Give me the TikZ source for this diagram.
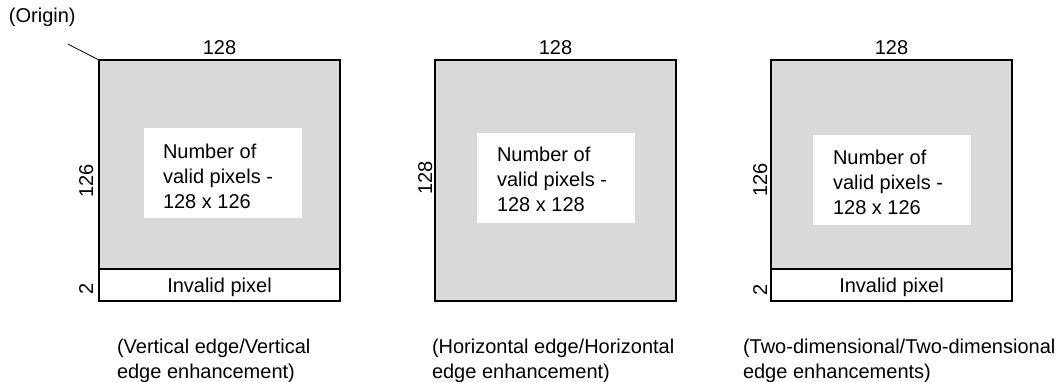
\documentclass[tikz,border=0pt]{standalone}
\usepackage{fontspec}
\setmainfont{Liberation Sans}
\usetikzlibrary{positioning}
\definecolor{pixgray}{RGB}{217,217,217}
\tikzset{
	every node/.style={inner sep=0pt, outer sep=0pt, font=\fontsize{20}{25}\selectfont},
	pixarea/.style={draw, line width=1.8pt, fill=pixgray, minimum width=241pt},
	badrow/.style={draw, line width=1.8pt, fill=white, minimum width=241pt, minimum height=32pt, text depth=0pt},
	infobox/.style={fill=white, minimum width=158pt, minimum height=90pt},
	infotext/.style={align=left, anchor=north west},
	sidelabel/.style={rotate=90, anchor=base},
	caption/.style={align=left, anchor=north west},
}

\begin{document}
\begin{tikzpicture}[x=1pt, y=-1pt]
	\useasboundingbox (0,0) rectangle (1060,381);

	% vertical edge
	\node[pixarea, minimum height=209pt] (sqA) at (219.5,164.5) {};
	\node[badrow, below=0pt of sqA] (badA) {Invalid pixel};
	\node[infobox] (boxA) at (222.5,172.5) {};
	\node[infotext] (txtA) at (163,143.7) {Number of\\valid pixels -\\128 x 126};
	\node[above=5pt of sqA] (topA) {128};
	\node[sidelabel] (sideA) at (93,181) {126};
	\node[sidelabel] (rowA) at (93,289) {2};
	\node[caption] (capA) at (117,338.7) {(Vertical edge/Vertical\\edge enhancement)};

	% horizontal edge
	\node[pixarea, minimum height=241pt] (sqB) at (555.5,180.5) {};
	\node[infobox] (boxB) at (556,178) {};
	\node[infotext] (txtB) at (497,147.1) {Number of\\valid pixels -\\128 x 128};
	\node[above=5pt of sqB] (topB) {128};
	\node[sidelabel] (sideB) at (432,178) {128};
	\node[caption] (capB) at (432,338.7) {(Horizontal edge/Horizontal\\edge enhancement)};

	% two-dimensional
	\node[pixarea, minimum height=209pt] (sqC) at (891.5,164.5) {};
	\node[badrow, below=0pt of sqC] (badC) {Invalid pixel};
	\node[infobox] (boxC) at (892,179.5) {};
	\node[infotext] (txtC) at (833,150.4) {Number of\\valid pixels -\\128 x 126};
	\node[above=5pt of sqC] (topC) {128};
	\node[sidelabel] (sideC) at (767,180) {126};
	\node[sidelabel] (rowC) at (767,290) {2};
	\node[caption] (capC) at (743,338.7) {(Two-dimensional/Two-dimensional\\edge enhancements)};

	% origin marker
	\node[anchor=base west] (orig) at (9,22) {(Origin)};
	\coordinate (origtip) at (67.7,44);
	\draw[line width=0.8pt] (origtip) -- (sqA.north west);
\end{tikzpicture}
\end{document}
